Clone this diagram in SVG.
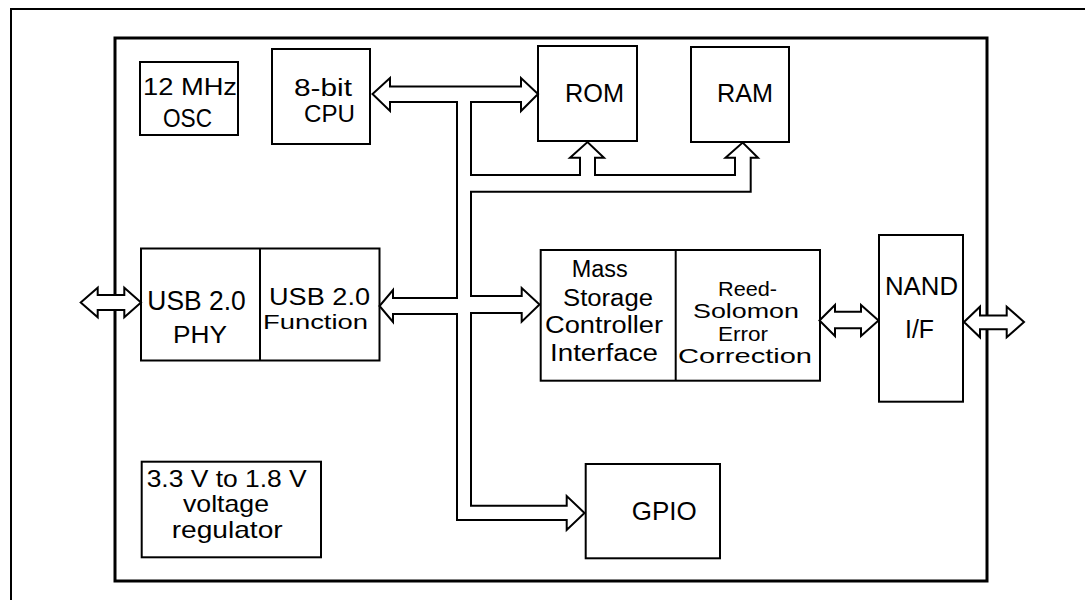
<svg xmlns="http://www.w3.org/2000/svg" width="1085" height="600" viewBox="0 0 1085 600">
<style>
  .box{fill:#fff;stroke:#000;stroke-width:2}
  .div{stroke:#000;stroke-width:2;fill:none}
  .arr{fill:#fff;stroke:#000;stroke-width:2;stroke-linejoin:miter}
  text{font-family:"Liberation Sans",Arial,Helvetica,sans-serif;fill:#000}
</style>
<rect width="1085" height="600" fill="#fff"/>
<g id="frame">
  <path d="M11,600 V9 H1085" fill="none" stroke="#000" stroke-width="2"/>
  <rect x="115" y="38" width="872" height="543" fill="none" stroke="#000" stroke-width="3"/>
</g>
<g id="osc">
  <rect class="box" x="140" y="62" width="98" height="73"/>
  <text x="143" y="95" font-size="24" textLength="94" lengthAdjust="spacingAndGlyphs">12 MHz</text>
  <text x="163" y="127" font-size="25" textLength="49" lengthAdjust="spacingAndGlyphs">OSC</text>
</g>
<g id="cpu">
  <rect class="box" x="272" y="49" width="98" height="95"/>
  <text x="294" y="95.5" font-size="23" textLength="58" lengthAdjust="spacingAndGlyphs">8-bit</text>
  <text x="304" y="121.5" font-size="23" textLength="51" lengthAdjust="spacingAndGlyphs">CPU</text>
</g>
<g id="rom">
  <rect class="box" x="538" y="46" width="99" height="95"/>
  <text x="565" y="102" font-size="26" textLength="59" lengthAdjust="spacingAndGlyphs">ROM</text>
</g>
<g id="ram">
  <rect class="box" x="691" y="47" width="98" height="95"/>
  <text x="717" y="102" font-size="26" textLength="56" lengthAdjust="spacingAndGlyphs">RAM</text>
</g>
<g id="usb">
  <rect class="box" x="141" y="248.5" width="238.5" height="112"/>
  <line class="div" x1="260" y1="248.5" x2="260" y2="360.5"/>
  <text x="147.3" y="310" font-size="28" textLength="98.4" lengthAdjust="spacingAndGlyphs">USB 2.0</text>
  <text x="173" y="342.7" font-size="23" textLength="54" lengthAdjust="spacingAndGlyphs">PHY</text>
  <text x="269" y="305" font-size="23" textLength="101" lengthAdjust="spacingAndGlyphs">USB 2.0</text>
  <text x="263" y="329.3" font-size="21" textLength="105" lengthAdjust="spacingAndGlyphs">Function</text>
</g>
<g id="msc">
  <rect class="box" x="540.7" y="250" width="279.3" height="130.7"/>
  <line class="div" x1="675.7" y1="250" x2="675.7" y2="380.7"/>
  <text x="571.7" y="277" font-size="23" textLength="56" lengthAdjust="spacingAndGlyphs">Mass</text>
  <text x="563" y="305.5" font-size="23" textLength="90" lengthAdjust="spacingAndGlyphs">Storage</text>
  <text x="545" y="333" font-size="23" textLength="118" lengthAdjust="spacingAndGlyphs">Controller</text>
  <text x="550" y="361" font-size="23" textLength="108" lengthAdjust="spacingAndGlyphs">Interface</text>
  <text x="718" y="295.5" font-size="20" textLength="59" lengthAdjust="spacingAndGlyphs">Reed-</text>
  <text x="693" y="318" font-size="20" textLength="106" lengthAdjust="spacingAndGlyphs">Solomon</text>
  <text x="718" y="340.5" font-size="20" textLength="50" lengthAdjust="spacingAndGlyphs">Error</text>
  <text x="678" y="363" font-size="20" textLength="134" lengthAdjust="spacingAndGlyphs">Correction</text>
</g>
<g id="nand">
  <rect class="box" x="879" y="235" width="84" height="166.7"/>
  <text x="885" y="295" font-size="26" textLength="73" lengthAdjust="spacingAndGlyphs">NAND</text>
  <text x="905" y="338" font-size="26" textLength="29" lengthAdjust="spacingAndGlyphs">I/F</text>
</g>
<g id="gpio">
  <rect class="box" x="585.7" y="464" width="134.3" height="94.3"/>
  <text x="631.7" y="520" font-size="26" textLength="65" lengthAdjust="spacingAndGlyphs">GPIO</text>
</g>
<g id="regulator">
  <rect class="box" x="141.7" y="461.7" width="179.3" height="95.6"/>
  <text x="146.7" y="487" font-size="24" textLength="160" lengthAdjust="spacingAndGlyphs">3.3 V to 1.8 V</text>
  <text x="183" y="511.7" font-size="24" textLength="86" lengthAdjust="spacingAndGlyphs">voltage</text>
  <text x="171.7" y="538" font-size="24" textLength="111" lengthAdjust="spacingAndGlyphs">regulator</text>
</g>
<g id="connectors">
  <path class="arr" d="M457,102 V298 H393 V290 L379.5,306 L393,322 V314 H457 V520 H566.7 V530 L584.5,513 L566.7,496 V505.7 H471 V313 H521.7 V321.7 L539.5,304.5 L521.7,288 V296 H471 V191.7 H750.7 V157.7 H758 L742.7,142.5 L725.5,157.7 H735 V175 H595 V157.7 H604 L587.5,142 L570,157.7 H580 V175 H471 V102 H521 V111 L538,94 L521,78 V86.5 H390 V78 L372.5,94 L390,111 V102 Z"/>
  <path class="arr" d="M80.7,302.5 L97.7,287.7 V295 H124.3 V287.7 L141,302.5 L124.3,317.3 V310 H97.7 V317.3 Z"/>
  <path class="arr" d="M819.5,320.5 L835,305 V311.7 H861 V305 L878.5,320.5 L861,336 V328.3 H835 V336 Z"/>
  <path class="arr" d="M964,322 L980,306.7 V315.5 H1006.7 V306.7 L1024,322 L1006.7,337.3 V329.3 H980 V337.3 Z"/>
</g>
</svg>
